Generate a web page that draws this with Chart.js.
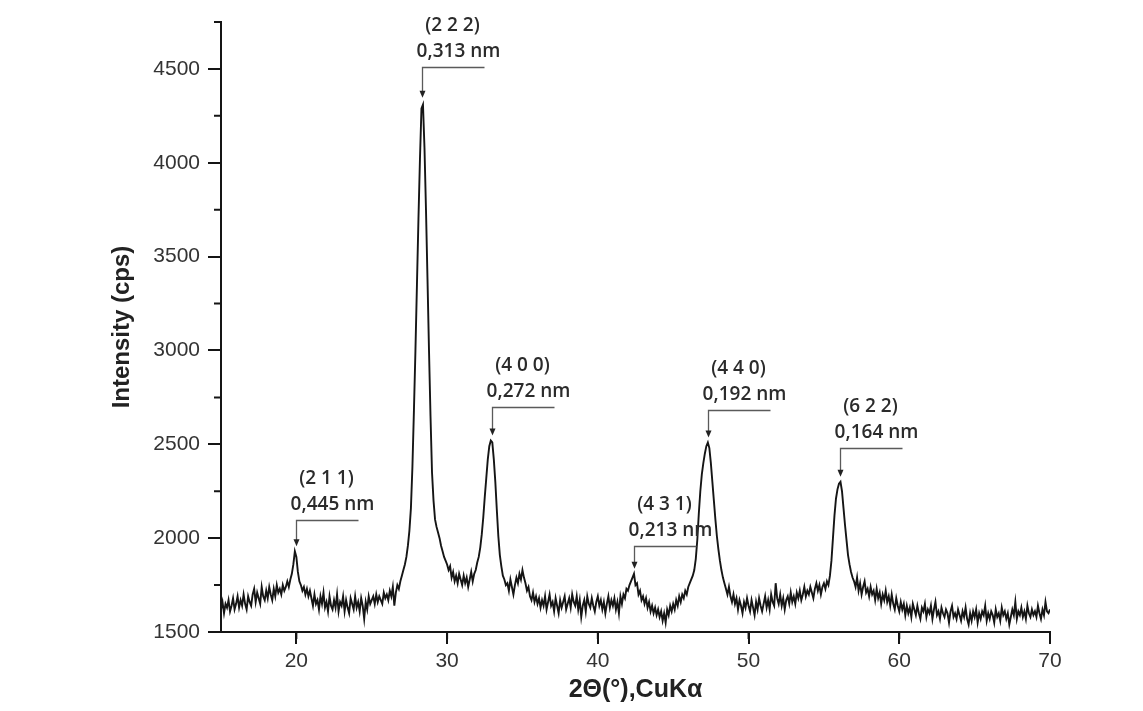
<!DOCTYPE html>
<html>
<head>
<meta charset="utf-8">
<script src="https://cdn.jsdelivr.net/npm/chart.js@4/dist/chart.umd.min.js"></script>
<style>
  html, body { margin: 0; padding: 0; background: #fff; }
  #wrap { width: 1143px; height: 711px; }
</style>
</head>
<body>
<div id="wrap"><canvas id="xrd"></canvas></div>
<script>
// 2θ grid of the scan (degrees)
const twoThetaStart = 15;
const twoThetaStep = 0.1;

// intensity (cps), one value per 0.1°, from 15.0° to 70.0°
const intensity = [
  1620,1660,1600,1650,1630,1670,1610,1640,1680,1620, // 15
  1650,1690,1630,1670,1640,1700,1650,1620,1690,1660, // 16
  1640,1700,1730,1660,1710,1680,1650,1740,1690,1670, // 17
  1720,1680,1740,1700,1670,1730,1690,1750,1710,1730, // 18
  1700,1750,1720,1740,1770,1740,1780,1810,1860,1930, // 19
  1900,1820,1770,1750,1720,1740,1700,1730,1690,1720, // 20
  1680,1640,1700,1650,1670,1620,1690,1650,1710,1630, // 21
  1660,1610,1690,1640,1620,1670,1630,1700,1610,1660, // 22
  1640,1690,1610,1670,1630,1600,1680,1650,1620,1690, // 23
  1630,1660,1610,1680,1640,1570,1660,1620,1690,1650, // 24
  1670,1690,1650,1700,1660,1690,1670,1650,1710,1680, // 25
  1700,1670,1720,1690,1740,1640,1710,1750,1730,1770, // 26
  1800,1830,1860,1900,1960,2040,2160,2380,2680,3000, // 27
  3350,3700,4020,4290,4310,4080,3750,3380,3000,2650, // 28
  2350,2200,2100,2060,2030,2000,1960,1930,1900,1880, // 29
  1860,1830,1850,1790,1820,1770,1800,1760,1810,1780, // 30
  1750,1800,1760,1790,1740,1780,1820,1770,1810,1830, // 31
  1870,1900,1950,2020,2110,2220,2320,2420,2490,2520, // 32
  2510,2420,2300,2150,2010,1910,1850,1800,1780,1750, // 33
  1760,1720,1780,1740,1700,1750,1790,1760,1810,1780, // 34
  1830,1790,1760,1720,1740,1690,1670,1710,1660,1690, // 35
  1650,1680,1630,1670,1640,1690,1620,1660,1700,1640, // 36
  1660,1610,1680,1640,1600,1670,1630,1660,1690,1620, // 37
  1650,1680,1630,1700,1660,1640,1690,1620,1670,1580, // 38
  1640,1670,1610,1690,1650,1630,1680,1640,1610,1660, // 39
  1690,1640,1670,1620,1660,1600,1650,1690,1630,1670, // 40
  1640,1680,1620,1660,1600,1690,1650,1700,1680,1730, // 41
  1720,1750,1770,1790,1810,1750,1760,1700,1720,1670, // 42
  1690,1650,1680,1630,1660,1610,1640,1600,1630,1590, // 43
  1620,1580,1610,1560,1600,1550,1620,1590,1640,1610, // 44
  1650,1620,1670,1640,1690,1660,1700,1680,1720,1700, // 45
  1740,1760,1780,1800,1830,1890,1990,2130,2250,2340, // 46
  2400,2450,2490,2510,2480,2400,2300,2200,2100,2010, // 47
  1940,1880,1830,1790,1760,1730,1700,1740,1690,1660, // 48
  1700,1650,1680,1620,1670,1640,1600,1660,1630,1680, // 49
  1640,1610,1670,1630,1590,1660,1620,1680,1640,1610, // 50
  1650,1690,1630,1670,1620,1700,1660,1640,1760,1680, // 51
  1650,1700,1640,1680,1620,1670,1690,1650,1710,1660, // 52
  1690,1650,1710,1680,1720,1670,1700,1740,1690,1720, // 53
  1700,1740,1710,1680,1730,1760,1720,1750,1700,1740, // 54
  1760,1730,1770,1750,1800,1880,2000,2120,2210,2260, // 55
  2290,2300,2250,2160,2070,1990,1910,1860,1820,1790, // 56
  1770,1740,1790,1720,1760,1700,1740,1770,1710,1730, // 57
  1690,1740,1700,1720,1670,1730,1680,1710,1650,1700, // 58
  1670,1720,1660,1690,1640,1700,1650,1620,1680,1640, // 59
  1610,1660,1620,1650,1590,1640,1600,1630,1580,1650, // 60
  1620,1590,1640,1600,1570,1630,1610,1650,1580,1620, // 61
  1600,1640,1570,1620,1660,1590,1610,1570,1630,1600, // 62
  1580,1620,1600,1550,1610,1640,1580,1600,1570,1620, // 63
  1590,1560,1610,1580,1630,1570,1540,1600,1560,1610, // 64
  1580,1620,1550,1600,1570,1610,1590,1640,1560,1600, // 65
  1570,1610,1590,1550,1620,1580,1600,1560,1630,1590, // 66
  1610,1570,1600,1540,1580,1620,1590,1660,1570,1610, // 67
  1590,1630,1580,1610,1570,1640,1600,1580,1620,1590, // 68
  1610,1580,1640,1600,1570,1620,1590,1660,1610,1600, // 69
  1620                                               // 70
];

// indexed reflections
const peakHkl = ['(2 1 1)', '(2 2 2)', '(4 0 0)', '(4 3 1)', '(4 4 0)', '(6 2 2)'];
const peakSpacing = ['0,445 nm', '0,313 nm', '0,272 nm', '0,213 nm', '0,192 nm', '0,164 nm'];
const peakPosition = [19.95, 28.35, 32.95, 42.4, 47.3, 56.1];
const peakHeight = [1930, 4320, 2520, 1810, 2510, 2300];
const leaderLevel = [2095, 4509, 2698, 1958, 2684, 2482];

// axis ranges and ticks
const xMin = 15, xMax = 70, xMajor = 10, xMinor = 5;
const yMin = 1500, yMax = 4750, yMajor = 500, yMinor = 250;

const points = intensity.map((v, i) => ({ x: +(twoThetaStart + i * twoThetaStep).toFixed(1), y: v }));

const ink = '#151515';
const tickFont = { family: "'Liberation Sans', Arial, sans-serif", size: 21 };

// minor ticks + peak annotations
const extras = {
  id: 'extras',
  afterDraw(chart) {
    const { ctx, scales: { x, y } } = chart;
    ctx.save();
    ctx.strokeStyle = ink;
    ctx.lineWidth = 2;
    ctx.beginPath();
    for (let v = yMin + yMinor; v <= yMax; v += yMajor) {
      const py = y.getPixelForValue(v);
      ctx.moveTo(x.left - 7, py);
      ctx.lineTo(x.left, py);
    }
    for (let v = xMin + xMinor; v < xMax; v += xMajor) {
      const px = x.getPixelForValue(v);
      ctx.moveTo(px, y.bottom);
      ctx.lineTo(px, y.bottom + 7);
    }
    ctx.stroke();

    peakHkl.forEach((hkl, i) => {
      const px = Math.round(x.getPixelForValue(peakPosition[i])) + 0.5;
      const tip = y.getPixelForValue(peakHeight[i]) - 5;
      const level = Math.round(y.getPixelForValue(leaderLevel[i])) + 0.5;

      ctx.strokeStyle = '#5a5a5a';
      ctx.lineWidth = 1.3;
      ctx.beginPath();
      ctx.moveTo(px + 62, level);
      ctx.lineTo(px, level);
      ctx.lineTo(px, tip - 6);
      ctx.stroke();

      ctx.fillStyle = '#222';
      ctx.beginPath();
      ctx.moveTo(px - 3, tip - 7);
      ctx.lineTo(px + 3, tip - 7);
      ctx.lineTo(px, tip);
      ctx.closePath();
      ctx.fill();

      ctx.fillStyle = '#2b2b2b';
      ctx.font = "600 19px 'Open Sans', sans-serif";
      ctx.textAlign = 'center';
      ctx.textBaseline = 'alphabetic';
      ctx.fillText(peakSpacing[i], px + 36, level - 11);
      ctx.fillText(hkl, px + 30, level - 37);
    });
    ctx.restore();
  }
};

const isMajorY = v => Math.abs(v % yMajor) < 1e-6;

new Chart(document.getElementById('xrd'), {
  type: 'line',
  data: {
    datasets: [{
      data: points,
      borderColor: ink,
      borderWidth: 1.9,
      pointRadius: 0,
      tension: 0,
      fill: false
    }]
  },
  options: {
    responsive: true,
    maintainAspectRatio: false,
    animation: false,
    layout: { padding: { left: 0, right: 93, top: 22, bottom: 0 } },
    plugins: { legend: { display: false }, tooltip: { enabled: false } },
    scales: {
      x: {
        type: 'linear',
        min: xMin,
        max: xMax,
        afterBuildTicks: s => { s.ticks = s.ticks.filter(t => t.value % xMajor === 0); },
        afterFit: s => { s.height = 79; },
        ticks: { stepSize: xMajor, color: '#333', font: tickFont, padding: 5, maxRotation: 0 },
        grid: { drawOnChartArea: false, drawTicks: true, tickLength: 12, color: ink, lineWidth: 2 },
        border: { color: ink, width: 2 },
        title: {
          display: true,
          text: '2Θ(°),CuKα',
          color: '#222',
          font: { family: "'Liberation Sans', Arial, sans-serif", size: 25, weight: 'bold' },
          padding: { top: 0, bottom: 6 }
        }
      },
      y: {
        min: yMin,
        max: yMax,
        afterFit: s => { s.width = 221; },
        ticks: {
          stepSize: yMinor,
          maxTicksLimit: 30,
          autoSkip: false,
          color: '#333',
          font: tickFont,
          padding: 8,
          callback: v => (isMajorY(v) ? String(v) : '')
        },
        grid: {
          drawOnChartArea: false,
          drawTicks: true,
          tickLength: 13,
          lineWidth: 2,
          tickColor: c => (c.tick && isMajorY(c.tick.value) ? ink : 'rgba(0,0,0,0)')
        },
        border: { color: ink, width: 2 },
        title: {
          display: true,
          text: 'Intensity (cps)',
          color: '#222',
          font: { family: "'Liberation Sans', Arial, sans-serif", size: 24, weight: 'bold' },
          padding: { top: 108, bottom: 0 }
        }
      }
    }
  },
  plugins: [extras]
});
</script>
</body>
</html>
